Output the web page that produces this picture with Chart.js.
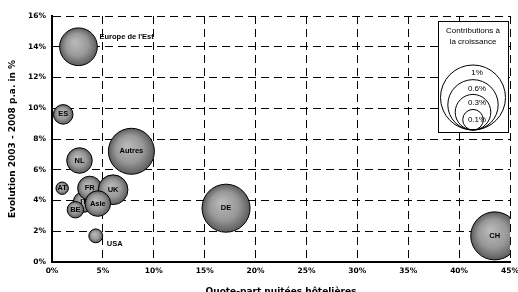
<!DOCTYPE html>
<html>
<head>
<meta charset="utf-8">
<script src="https://cdn.jsdelivr.net/npm/chart.js@4/dist/chart.umd.min.js"></script>
<style>
  html, body { margin: 0; padding: 0; background: #fff; overflow: hidden; }
  #wrap { width: 518px; height: 292px; }
</style>
</head>
<body>
<div id="wrap"><canvas id="bubbleChart" width="518" height="292"></canvas></div>
<script>
// Données
const categories = ['Europe de l\'Est', 'ES', 'NL', 'Autres', 'AT', 'IT', 'BE', 'FR', 'UK', 'Asie', 'USA', 'DE', 'CH'];
const sharePct = [2.6, 1.1, 2.7, 7.8, 1.0, 3.1, 2.3, 3.7, 6.0, 4.5, 4.3, 17.1, 43.5];
const growthPct = [14.0, 9.6, 6.6, 7.2, 4.8, 3.9, 3.4, 4.8, 4.7, 3.8, 1.7, 3.5, 1.7];
const contributionPct = [0.37, 0.10, 0.17, 0.55, 0.04, 0.11, 0.07, 0.15, 0.23, 0.17, 0.05, 0.60, 0.60];
const xTicks = [0, 5, 10, 15, 20, 25, 30, 35, 40, 45];
const yTicks = [0, 2, 4, 6, 8, 10, 12, 14, 16];
const legendSizes = [1, 0.6, 0.3, 0.1];
const legendLabels = ['1%', '0.6%', '0.3%', '0.1%'];

const RADIUS_K = 31; // rayon en px pour 1% de contribution
function radiusFor(c, k) { return (k || RADIUS_K) * Math.sqrt(c); }

const points = categories.map((c, i) => ({
  x: sharePct[i], y: growthPct[i], r: radiusFor(contributionPct[i]), label: c
}));

const ctx = document.getElementById('bubbleChart').getContext('2d');

function bubbleFill(context) {
  const chart = context.chart;
  const raw = context.raw;
  if (!raw || !chart.scales || !chart.scales.x || !chart.scales.y) return '#909090';
  const cx = chart.scales.x.getPixelForValue(raw.x);
  const cy = chart.scales.y.getPixelForValue(raw.y);
  const r = raw.r || 1;
  if (!isFinite(cx) || !isFinite(cy)) return '#909090';
  const g = chart.ctx.createRadialGradient(cx - r * 0.2, cy - r * 0.25, 0, cx, cy, r);
  g.addColorStop(0, '#bcbcbc');
  g.addColorStop(0.6, '#989898');
  g.addColorStop(1, '#5c5c5c');
  return g;
}

// Étiquettes des bulles
const labelPlugin = {
  id: 'bubbleLabels',
  afterDatasetsDraw(chart) {
    const c = chart.ctx;
    const meta = chart.getDatasetMeta(0);
    c.save();
    c.font = 'bold 7.5px "Liberation Sans", Arial, sans-serif';
    c.fillStyle = '#000';
    c.textBaseline = 'middle';
    meta.data.forEach((el, i) => {
      const name = categories[i];
      if (name === 'Europe de l\'Est') {
        c.textAlign = 'left';
        c.fillText(name, el.x + 21, el.y - 10);
      } else if (name === 'USA') {
        c.textAlign = 'left';
        c.fillText(name, el.x + 11, el.y + 8);
      } else {
        c.textAlign = 'center';
        c.fillText(name, el.x, el.y);
      }
    });
    c.restore();
  }
};

// Légende des tailles
const sizeLegendPlugin = {
  id: 'sizeLegend',
  afterDraw(chart) {
    const c = chart.ctx;
    const box = { x: 438, y: 21, w: 70, h: 111 };
    const k = 32.5;
    c.save();
    c.fillStyle = '#fff';
    c.fillRect(box.x, box.y, box.w, box.h);
    c.strokeStyle = '#000';
    c.lineWidth = 1;
    c.strokeRect(box.x + 0.5, box.y + 0.5, box.w, box.h);
    c.fillStyle = '#000';
    c.font = '8px "Liberation Sans", Arial, sans-serif';
    c.textAlign = 'center';
    c.textBaseline = 'middle';
    const cx = box.x + box.w / 2;
    c.fillText('Contributions à', cx, box.y + 10);
    c.fillText('la croissance', cx, box.y + 21);
    const base = box.y + box.h - 2;
    legendSizes.forEach((s) => {
      const r = radiusFor(s, k);
      c.beginPath();
      c.arc(cx, base - r, r, 0, Math.PI * 2);
      c.stroke();
    });
    const labelY = [73, 89, 103, 120];
    legendLabels.forEach((t, i) => {
      c.fillText(t, cx + 4, labelY[i]);
    });
    c.restore();
  }
};

const chart = new Chart(ctx, {
  type: 'bubble',
  data: {
    datasets: [{
      label: 'Marchés',
      data: points,
      backgroundColor: bubbleFill,
      borderColor: '#000',
      borderWidth: 1,
      clip: 0
    }]
  },
  options: {
    responsive: false,
    animation: false,
    layout: { autoPadding: false, padding: { top: 16, right: 8, left: 0, bottom: 0 } },
    plugins: {
      legend: { display: false },
      tooltip: { enabled: false }
    },
    scales: {
      x: {
        type: 'linear',
        min: 0,
        max: 45,
        afterBuildTicks: (s) => { s.ticks = xTicks.map(v => ({ value: v })); },
        afterFit: (s) => { s.height = 30; s.paddingLeft = 0; s.paddingRight = 0; },
        ticks: {
          padding: 5,
          maxRotation: 0,
          font: { family: '"DejaVu Sans", Verdana, sans-serif', size: 7.5, weight: 'bold' },
          color: '#000',
          callback: v => v + '%'
        },
        grid: { color: '#000', lineWidth: 1, drawTicks: false },
        border: { display: true, color: '#000', width: 2, dash: [8, 5] },
        title: {
          display: true,
          text: 'Quote-part nuitées hôtelières',
          color: '#000',
          font: { family: '"DejaVu Sans", Verdana, sans-serif', size: 9, weight: 'bold' },
          padding: { top: 0, bottom: -5 }
        }
      },
      y: {
        type: 'linear',
        min: 0,
        max: 16,
        afterBuildTicks: (s) => { s.ticks = yTicks.map(v => ({ value: v })); },
        afterFit: (s) => { s.width = 52; s.paddingTop = 0; s.paddingBottom = 0; },
        ticks: {
          padding: 6,
          font: { family: '"DejaVu Sans", Verdana, sans-serif', size: 7.5, weight: 'bold' },
          color: '#000',
          callback: v => v + '%'
        },
        grid: { color: '#000', lineWidth: 1, drawTicks: false },
        border: { display: true, color: '#000', width: 2, dash: [8, 5] },
        title: {
          display: true,
          text: 'Evolution 2003 - 2008 p.a. in %',
          color: '#000',
          font: { family: '"DejaVu Sans", Verdana, sans-serif', size: 9, weight: 'bold' },
          padding: { top: 7, bottom: 0 }
        }
      }
    }
  },
  plugins: [labelPlugin, sizeLegendPlugin]
});
</script>
</body>
</html>
